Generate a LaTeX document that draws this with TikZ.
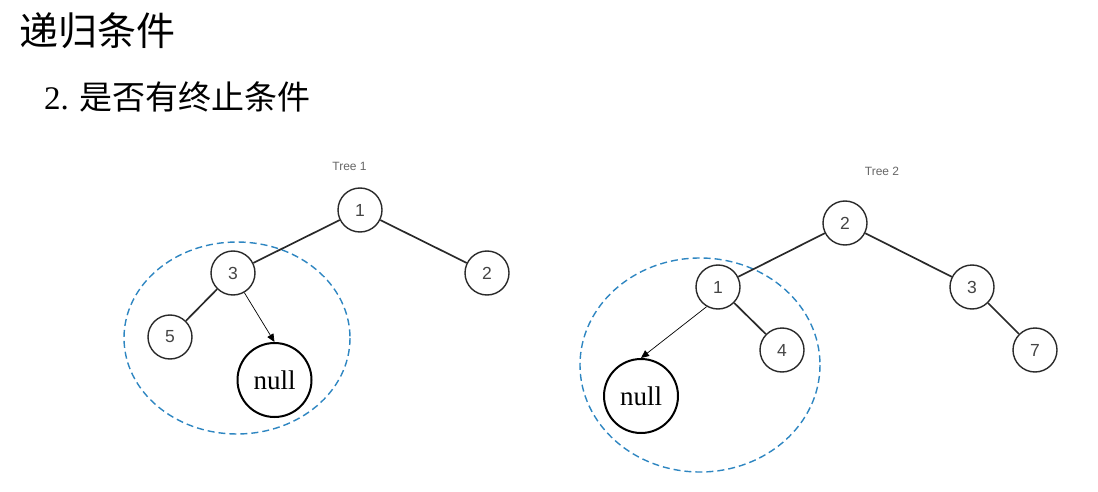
\documentclass[tikz,border=0pt]{standalone}
\usepackage{fontspec}
\setmainfont{Liberation Serif}
\setsansfont{Liberation Sans}
\newfontfamily\cjk{Noto Sans CJK SC}
\usetikzlibrary{arrows.meta}
\definecolor{edgegray}{HTML}{2A2A2A}
\definecolor{txtgray}{HTML}{444444}
\definecolor{dashblue}{HTML}{2E86C1}
\tikzset{
  tnode/.style={circle, draw=edgegray, line width=1.4pt, minimum size=44pt, inner sep=0pt,
    font=\sffamily\fontsize{17.5}{17.5}\selectfont, text=txtgray},
  nullnode/.style={circle, draw=black, line width=2pt, minimum size=74pt, inner sep=0pt,
    font=\rmfamily\fontsize{27}{27}\selectfont},
  tedge/.style={draw=edgegray, line width=1.7pt},
  parrow/.style={draw=black, line width=0.7pt, -{Triangle[length=8pt,width=7pt]}},
  region/.style={draw=dashblue, line width=1.4pt, dash pattern=on 7pt off 4pt},
  treelabel/.style={font=\sffamily\fontsize{12}{12}\selectfont, text=black!60},
}
\begin{document}
\begin{tikzpicture}[x=1pt,y=-1pt]
\useasboundingbox (0,0) rectangle (1098,492);
% titles
\node[anchor=west, inner sep=0pt, font=\cjk\fontsize{39}{40}\selectfont] (title) at (19,31) {递归条件};
\node[anchor=base west, inner sep=0pt, font=\fontsize{33}{34}\selectfont] (sub) at (44,110) {2. {\cjk 是否有终止条件}};
% Tree 1
\node[treelabel] (t1lab) at (349.5,166) {Tree 1};
\draw[region] (237,338) ellipse [x radius=113, y radius=96];
\node[tnode] (a1) at (360,210) {1};
\node[tnode] (a3) at (233,273) {3};
\node[tnode] (a2) at (487,273) {2};
\node[tnode] (a5) at (170,337) {5};
\node[nullnode] (anull) at (274.5,380) {null};
\draw[tedge] (a1) -- (a3);
\draw[tedge] (a1) -- (a2);
\draw[tedge] (a3) -- (a5);
\draw[parrow] (a3.-60) -- (anull.north);
% Tree 2
\node[treelabel] (t2lab) at (882,171) {Tree 2};
\draw[region] (700,365) ellipse [x radius=120, y radius=107];
\node[tnode] (b2) at (845,223) {2};
\node[tnode] (b1) at (718,287) {1};
\node[tnode] (b3) at (972,287) {3};
\node[tnode] (b4) at (782,350) {4};
\node[tnode] (b7) at (1035,350) {7};
\node[nullnode] (bnull) at (641,396) {null};
\draw[tedge] (b2) -- (b1);
\draw[tedge] (b2) -- (b3);
\draw[tedge] (b1) -- (b4);
\draw[tedge] (b3) -- (b7);
\draw[parrow] (b1.-120) -- (bnull.north);
\end{tikzpicture}
\end{document}
